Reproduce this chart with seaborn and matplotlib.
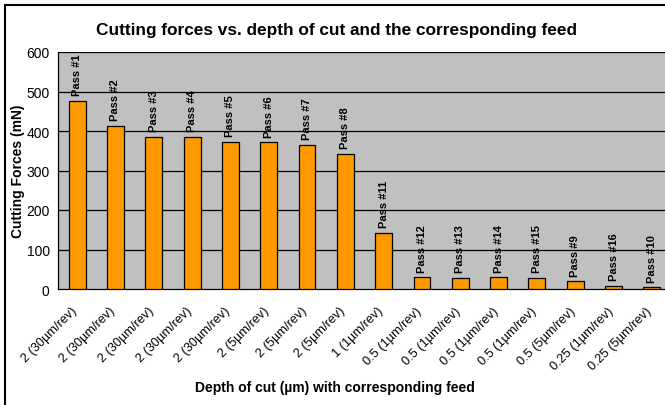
import matplotlib
matplotlib.use("Agg")
import matplotlib.pyplot as plt
import seaborn as sns
import pandas as pd
import numpy as np
from matplotlib.patches import Rectangle

categories = ["2 (30µm/rev)", "2 (30µm/rev)", "2 (30µm/rev)", "2 (30µm/rev)",
              "2 (30µm/rev)", "2 (5µm/rev)", "2 (5µm/rev)", "2 (5µm/rev)",
              "1 (1µm/rev)", "0.5 (1µm/rev)", "0.5 (1µm/rev)", "0.5 (1µm/rev)",
              "0.5 (1µm/rev)", "0.5 (5µm/rev)", "0.25 (1µm/rev)", "0.25 (5µm/rev)"]
passes = ["Pass #1", "Pass #2", "Pass #3", "Pass #4", "Pass #5", "Pass #6", "Pass #7",
          "Pass #8", "Pass #11", "Pass #12", "Pass #13", "Pass #14", "Pass #15",
          "Pass #9", "Pass #16", "Pass #10"]
forces = [476, 413, 386, 385, 373, 372, 365, 343, 143, 30, 29, 30, 29, 20, 8, 4]
yticks = [0, 100, 200, 300, 400, 500, 600]

sns.set_style("white")
plt.rcParams["font.family"] = ["Liberation Sans", "DejaVu Sans"]
plt.rcParams["text.color"] = "black"
plt.rcParams["axes.labelcolor"] = "black"
plt.rcParams["xtick.color"] = "black"
plt.rcParams["ytick.color"] = "black"

fig = plt.figure(figsize=(6.65, 4.06), dpi=100)
W, H = 665, 406
ax = fig.add_axes([58 / W, 1 - 290 / H, 613 / W, 237 / H])

df = pd.DataFrame({"idx": [str(i) for i in range(len(forces))], "force": forces})
sns.barplot(data=df, x="idx", y="force", ax=ax, color="#FF9900", saturation=1,
            width=0.44, edgecolor="black", linewidth=0.9, zorder=3)

ax.set_facecolor("#C0C0C0")
ax.set_ylim(0, 600)
ax.set_xlim(-0.5, len(forces) - 0.5)
ax.set_yticks(yticks)
ax.set_yticklabels([str(v) for v in yticks], fontsize=10)
for v in yticks[1:]:
    ax.axhline(v, color="black", linewidth=0.9, zorder=1)

ax.set_xticks(np.arange(-0.5, len(forces), 1.0))
ax.set_xticklabels([])
ax.set_xticks(np.arange(len(forces)), minor=True)
ax.set_xticklabels(categories, minor=True, rotation=45, ha="right", va="center",
                   rotation_mode="anchor", fontsize=9.2)
ax.tick_params(axis="x", which="minor", length=0, pad=14)
ax.tick_params(axis="x", which="major", length=4, width=0.8, color="black", direction="out")
ax.tick_params(axis="y", length=4, width=0.8, color="black", direction="out", pad=2)
for lbl in ax.get_xticklabels(minor=True):
    lbl.set_transform(lbl.get_transform() +
                      matplotlib.transforms.ScaledTranslation(-2 / 100, 0, fig.dpi_scale_trans))

for s in ["top", "right"]:
    ax.spines[s].set_visible(False)
ax.spines["left"].set_color("black")
ax.spines["left"].set_linewidth(0.9)
ax.spines["bottom"].set_color("black")
ax.spines["bottom"].set_linewidth(0.9)

for i, (p, v) in enumerate(zip(passes, forces)):
    ax.annotate(p, (i, v), xytext=(0, 4), textcoords="offset points", rotation=90,
                ha="center", va="bottom", fontsize=8, fontweight="bold", zorder=4)

ax.set_xlabel("Depth of cut (µm) with corresponding feed", fontsize=10, fontweight="bold")
ax.xaxis.set_label_coords((335 - 58) / 613, (290 - 381) / 237)
ax.set_ylabel("Cutting Forces (mN)", fontsize=10, fontweight="bold")
ax.yaxis.set_label_coords((25 - 58) / 613, 0.5)

fig.text(336 / W, 1 - 31 / H, "Cutting forces vs. depth of cut and the corresponding feed",
         ha="center", va="center", fontsize=12.4, fontweight="bold")

fig.patches.append(Rectangle((5 / W, -0.1), 1.2, 1 - 6 / H + 0.1, transform=fig.transFigure,
                             fill=False, edgecolor="black", linewidth=1.5))

fig.savefig("out.png", dpi=100)
